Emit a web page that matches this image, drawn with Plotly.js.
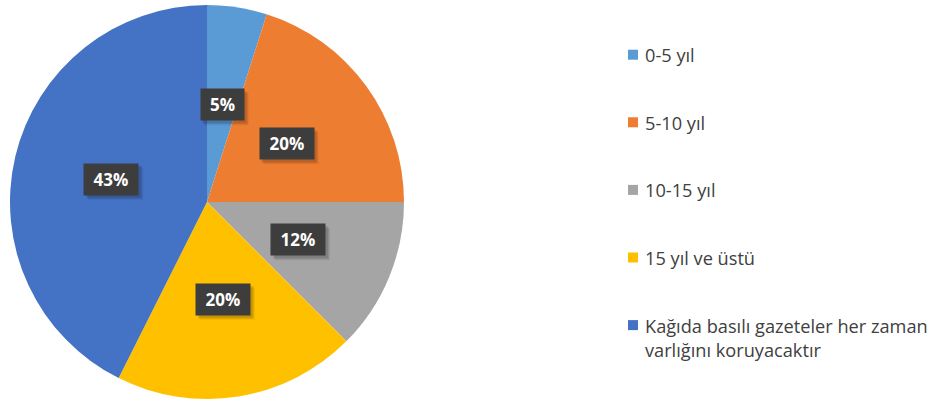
<!DOCTYPE html>
<html>
<head>
<meta charset="utf-8">
<script src="https://cdn.plot.ly/plotly-3.0.1.min.js"></script>
<style>html,body{margin:0;padding:0;background:#fff;}#chart{width:940px;height:401px;}</style>
</head>
<body>
<div id="chart"></div>
<script>
// Data
const categories = ["0-5 yıl", "5-10 yıl", "10-15 yıl", "15 yıl ve üstü", "Kağıda basılı gazeteler her zaman<br>varlığını koruyacaktır"];
const values = [4.9, 20.1, 12.5, 19.9, 42.6];
const valueLabels = ["5%", "20%", "12%", "20%", "43%"];
const colors = ["#5B9BD5", "#ED7D31", "#A5A5A5", "#FFC000", "#4472C4"];

const W = 940, H = 401;
const cx = 207, cy = 202, R = 197;
const FONT = "Open Sans, Liberation Sans, sans-serif";

const trace = {
  type: "pie",
  values: values,
  labels: categories,
  marker: { colors: colors, line: { width: 0 } },
  sort: false,
  direction: "clockwise",
  rotation: 0,
  textinfo: "none",
  hoverinfo: "label+percent",
  showlegend: false,
  domain: { x: [(cx - R) / W, (cx + R) / W], y: [(H - cy - R) / H, (H - cy + R) / H] }
};

const annotations = [];
const shapes = [];
const total = values.reduce((a, b) => a + b, 0);
let cum = 0;
const boxH = 31;
values.forEach((v, i) => {
  const mid = (cum + v / 2) / total * 2 * Math.PI;
  cum += v;
  const px = cx + 0.5 * R * Math.sin(mid);
  const py = cy - 0.5 * R * Math.cos(mid);
  const boxW = 11 * valueLabels[i].length + 21;
  // soft shadow
  [[5, 0.06], [4, 0.08], [3, 0.10]].forEach(([o, a]) => {
    shapes.push({
      type: "rect", xref: "paper", yref: "paper",
      x0: (px - boxW / 2 + o - 1) / W, x1: (px + boxW / 2 + o) / W,
      y0: 1 - (py - boxH / 2 + o - 1) / H, y1: 1 - (py + boxH / 2 + o) / H,
      fillcolor: "rgba(0,0,0," + a + ")", line: { width: 0 }, layer: "above"
    });
  });
  annotations.push({
    x: px / W, y: 1 - py / H, xref: "paper", yref: "paper",
    xanchor: "center", yanchor: "middle",
    text: "<b>" + valueLabels[i] + "</b>", showarrow: false,
    width: boxW, height: boxH, borderpad: 0,
    font: { family: FONT, size: 17, color: "#ffffff" },
    bgcolor: "#3d3d3d"
  });
});

// manual legend
const legX = 628, legSize = 10, legTextX = 644, legY0 = 54.7, legStep = 67.6;
categories.forEach((c, i) => {
  const yc = legY0 + i * legStep;
  shapes.push({
    type: "rect", xref: "paper", yref: "paper",
    x0: legX / W, x1: (legX + legSize) / W,
    y0: 1 - (yc - legSize / 2) / H, y1: 1 - (yc + legSize / 2) / H,
    fillcolor: colors[i], line: { width: 0 }
  });
  annotations.push({
    x: legTextX / W, y: 1 - (yc - 12.5) / H, xref: "paper", yref: "paper",
    xanchor: "left", yanchor: "top", align: "left",
    text: c, showarrow: false, borderpad: 0,
    font: { family: FONT, size: 18.2, color: "#404040" }
  });
});

const layout = {
  width: W, height: H,
  margin: { l: 0, r: 0, t: 0, b: 0 },
  paper_bgcolor: "#ffffff",
  showlegend: false,
  annotations: annotations,
  shapes: shapes
};

Plotly.newPlot("chart", [trace], layout, { displayModeBar: false, staticPlot: true });
</script>
</body>
</html>
